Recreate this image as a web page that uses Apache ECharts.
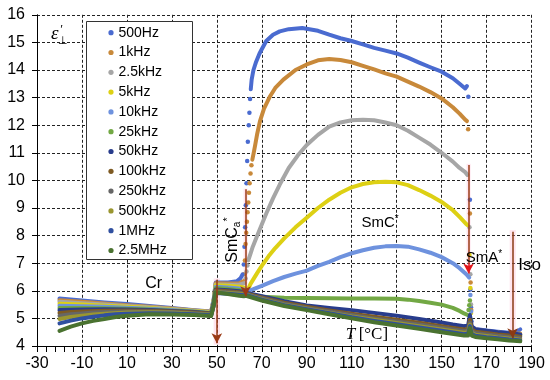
<!DOCTYPE html>
<html><head><meta charset="utf-8">
<script src="https://cdn.jsdelivr.net/npm/echarts/dist/echarts.min.js"></script>
<style>html,body{margin:0;padding:0;background:#fff}#c{width:550px;height:380px}</style>
</head><body><div id="c"></div>
<script>
// ---- axis ticks ----
const xTickValues = [-30,-10,10,30,50,70,90,110,130,150,170,190];
const yTickValues = [4,5,6,7,8,9,10,11,12,13,14,15,16];

// ---- series names / colours ----
const seriesNames = ['500Hz','1kHz','2.5kHz','5kHz','10kHz','25kHz','50kHz','100kHz','250kHz','500kHz','1MHz','2.5MHz'];
const seriesColors = ['#4A6BD0','#C8893A','#A6A6A6','#DDD014','#6E92DE','#72A844','#283C8C','#7E5A22','#666666','#9A9630','#3050A0','#4A7230'];

// ---- data: [T (°C), eps]. Dense runs (null = gap) and sparse isolated dots ----
const s500Hz = [[-20,5.72],[-10,5.65],[0,5.58],[10,5.52],[20,5.45],[30,5.38],[40,5.3],[47.5,5.25],[48.7,5.75],[49.5,6.3],[55,6.3],[59,6.35],[60.5,6.45],[61.5,6.6],
 null,[65.1,13.3],[65.5,13.65],[66.3,14.0],[67.5,14.3],[69,14.6],[70,14.75],[72,15.05],[75,15.28],[78,15.4],[82,15.48],[88,15.52],[95,15.42],[100,15.28],[105,15.15],[110,15.05],[115,14.93],[120,14.8],[125,14.7],[130,14.6],[135,14.45],[140,14.27],[145,14.1],[150,13.94],[155,13.7],[158,13.5],[160.5,13.33],[161.3,13.42],
 null,[163.6,4.68],[165,4.62],[170,4.56],[175,4.52],[180,4.48],[182,4.47],[183.5,4.52],[185,4.6]];
const d500Hz = [[62.0,6.95],[62.3,7.6],[62.6,8.3],[62.9,9.1],[63.2,9.9],[63.5,10.7],[63.8,11.4],[64.2,12.0],[64.5,12.45],[64.8,12.95],[161.9,13.03],[162.6,9.3],[162.8,6.05],[163.1,5.4],[163.3,4.9]];

const s1kHz = [[-20,5.66],[-10,5.6],[0,5.54],[10,5.48],[20,5.42],[30,5.36],[40,5.29],[47.5,5.24],[48.7,5.7],[49.5,6.27],[55,6.26],[60,6.27],[61.8,6.35],
 null,[65.8,10.75],[66.3,10.95],[67,11.25],[68,11.7],[69.2,12.15],[71,12.6],[73.7,13.05],[76,13.35],[79.6,13.65],[85,14.0],[90,14.2],[95,14.35],[100,14.4],[105,14.36],[110,14.28],[115,14.15],[120,14.02],[125,13.88],[130,13.76],[135,13.58],[140,13.4],[145,13.2],[150,12.97],[155,12.65],[158,12.42],[160.5,12.2],[161.3,12.15],
 null,[163.6,4.66],[165,4.6],[170,4.53],[175,4.49],[180,4.45],[182,4.44],[185,4.45]];
const d1kHz = [[62.2,6.6],[62.5,7.1],[62.8,7.7],[63.1,8.1],[63.4,8.5],[63.7,8.85],[64.0,9.2],[64.3,9.55],[64.6,9.9],[65.0,10.25],[65.4,10.55],[161.8,11.85],[162.6,8.8],[162.9,6.3],[163.2,5.3]];

const s2k5Hz = [[-20,5.6],[-10,5.55],[0,5.5],[10,5.45],[20,5.4],[30,5.34],[40,5.28],[47.5,5.23],[48.7,5.7],[49.5,6.23],[55,6.22],[60,6.22],[62.3,6.28],
 null,[64,7.1],[65,7.35],[66,7.6],[68,8.0],[70,8.4],[72,8.8],[75,9.35],[78,9.85],[82,10.45],[86,10.9],[90,11.28],[95,11.65],[100,11.95],[105,12.1],[110,12.18],[115,12.2],[120,12.18],[125,12.1],[130,12.0],[135,11.8],[140,11.55],[145,11.3],[150,11.0],[155,10.68],[158,10.45],[160.5,10.3],[161.5,10.2],
 null,[163.5,4.64],[165,4.58],[170,4.52],[175,4.48],[180,4.44],[182,4.43],[185,4.42]];
const d2k5Hz = [[62.8,6.45],[63.2,6.7],[63.6,6.92],[162.4,8.3],[162.8,6.6],[163.1,5.5]];

const s5kHz = [[-20,5.53],[-10,5.5],[0,5.46],[10,5.42],[20,5.38],[30,5.32],[40,5.27],[47.5,5.22],[48.7,5.7],[49.5,6.2],[55,6.18],[60,6.15],[62,6.12],[63,6.03],[64,6.07],[65,6.25],[68,6.65],[70,6.9],[73,7.25],[76,7.55],[80,7.9],[85,8.3],[90,8.65],[95,9.0],[100,9.3],[105,9.55],[110,9.75],[115,9.87],[120,9.93],[125,9.95],[130,9.93],[135,9.83],[140,9.65],[145,9.45],[150,9.22],[155,8.92],[158,8.68],[161,8.42],[161.5,8.38],
 null,[163.5,4.63],[165,4.57],[170,4.51],[175,4.47],[180,4.43],[182,4.42],[185,4.41]];
const d5kHz = [[162.4,7.3],[162.8,6.1],[163.1,5.2]];

const s10kHz = [[-20,5.46],[-10,5.44],[0,5.42],[10,5.39],[20,5.35],[30,5.3],[40,5.25],[47.5,5.2],[48.7,5.65],[49.5,6.15],[55,6.12],[60,6.08],[62,6.05],[63,5.98],[66,6.05],[70,6.18],[75,6.35],[80,6.5],[85,6.62],[90,6.73],[95,6.9],[100,7.05],[105,7.22],[110,7.36],[115,7.47],[120,7.56],[125,7.61],[130,7.62],[135,7.6],[140,7.5],[145,7.38],[150,7.22],[155,7.0],[158,6.82],[161,6.6],[162.3,6.48],
 null,[163.5,4.62],[165,4.56],[170,4.5],[175,4.46],[180,4.42],[182,4.41],[185,4.4]];
const d10kHz = [[162.8,5.85],[163.1,5.25]];

const s25kHz = [[-20,5.38],[-10,5.38],[0,5.37],[10,5.35],[20,5.32],[30,5.28],[40,5.24],[47.5,5.19],[48.7,5.6],[49.5,6.1],[55,6.07],[60,6.03],[62,6.0],[63,5.9],[65,5.83],[70,5.78],[80,5.75],[90,5.74],[100,5.73],[110,5.72],[120,5.72],[130,5.71],[135,5.68],[140,5.63],[145,5.57],[150,5.5],[155,5.38],[158,5.27],[160,5.18],[161.5,5.13],
 null,[163.4,4.62],[165,4.55],[170,4.49],[175,4.45],[180,4.41],[182,4.4],[185,4.38]];
const d25kHz = [[162,5.3],[162.3,5.48],[162.6,5.65],[163,4.95]];

const s50kHz = [[-20,5.3],[-10,5.32],[0,5.33],[10,5.32],[20,5.3],[30,5.27],[40,5.23],[47.5,5.18],[48.7,5.6],[49.5,6.05],[55,6.02],[60,5.98],[62,5.96],[63,5.93],[70,5.8],[80,5.62],[90,5.47],[100,5.38],[110,5.3],[120,5.2],[130,5.1],[140,4.98],[150,4.85],[155,4.78],[160,4.72],[161.8,4.75],[162.6,5.12],[163.4,4.72],[165,4.6],[170,4.55],[175,4.5],[180,4.46],[182,4.45],[185,4.42]];
const s100kHz = [[-20,5.2],[-15,5.23],[-10,5.25],[0,5.28],[10,5.29],[20,5.28],[30,5.25],[40,5.21],[47.5,5.17],[48.7,5.55],[49.5,6.02],[55,5.98],[60,5.95],[62,5.93],[63,5.9],[70,5.76],[80,5.57],[90,5.42],[100,5.29],[110,5.17],[120,5.06],[130,4.95],[140,4.84],[150,4.72],[160,4.6],[161.8,4.62],[162.6,4.95],[163.4,4.6],[165,4.52],[170,4.47],[175,4.42],[180,4.38],[182,4.37],[185,4.34]];
const s250kHz = [[-20,5.1],[-15,5.15],[-10,5.18],[-5,5.21],[0,5.23],[10,5.25],[20,5.25],[30,5.23],[40,5.19],[47.5,5.15],[48.7,5.5],[49.5,5.98],[55,5.95],[60,5.92],[62,5.9],[63,5.88],[70,5.73],[80,5.53],[90,5.38],[100,5.25],[110,5.12],[120,5.0],[130,4.89],[140,4.78],[150,4.66],[160,4.54],[161.8,4.56],[162.6,4.85],[163.4,4.54],[165,4.47],[170,4.42],[175,4.37],[180,4.33],[182,4.32],[185,4.29]];
const s500kHz = [[-20,4.98],[-15,5.05],[-10,5.1],[-5,5.14],[0,5.17],[10,5.21],[20,5.22],[30,5.21],[40,5.17],[47.5,5.13],[48.7,5.5],[49.5,5.95],[55,5.92],[60,5.89],[62,5.87],[63,5.86],[70,5.7],[80,5.5],[90,5.35],[100,5.21],[110,5.07],[120,4.95],[130,4.83],[140,4.72],[150,4.6],[160,4.48],[161.8,4.5],[162.6,4.78],[163.4,4.48],[165,4.41],[170,4.36],[175,4.31],[180,4.27],[182,4.26],[185,4.23]];
const s1MHz = [[-20,4.82],[-15,4.92],[-10,5.0],[-5,5.06],[0,5.11],[5,5.15],[10,5.17],[20,5.19],[30,5.18],[40,5.15],[47.5,5.11],[48.7,5.5],[49.5,5.92],[55,5.89],[60,5.86],[62,5.84],[63,5.85],[70,5.68],[80,5.48],[90,5.33],[100,5.19],[110,5.04],[120,4.91],[130,4.79],[140,4.67],[150,4.55],[160,4.43],[161.8,4.45],[162.6,4.72],[163.4,4.43],[165,4.37],[170,4.32],[175,4.28],[180,4.24],[182,4.23],[185,4.2]];
const s2M5Hz = [[-20,4.55],[-15,4.7],[-10,4.82],[-5,4.91],[0,4.98],[5,5.05],[10,5.1],[20,5.15],[30,5.14],[40,5.12],[47.5,5.09],[48.7,5.5],[49.5,5.95],[55,5.88],[60,5.82],[62,5.8],[63,5.82],[70,5.65],[80,5.45],[90,5.3],[100,5.15],[110,5.0],[120,4.86],[130,4.74],[140,4.62],[150,4.5],[160,4.38],[161.8,4.38],[162.6,4.65],[163.4,4.38],[165,4.33],[170,4.28],[175,4.24],[180,4.2],[182,4.19],[185,4.17]];

const runData = [s500Hz,s1kHz,s2k5Hz,s5kHz,s10kHz,s25kHz,s50kHz,s100kHz,s250kHz,s500kHz,s1MHz,s2M5Hz];
const dotData = [d500Hz,d1kHz,d2k5Hz,d5kHz,d10kHz,d25kHz,[],[],[],[],[],[]];

const SANS = '"Liberation Sans", Arial, sans-serif';
const SERIF = '"Liberation Serif", "Times New Roman", serif';

function splitRuns(d){
  const out=[]; let cur=[];
  d.forEach(p=>{ if(p===null){ if(cur.length) out.push(cur); cur=[]; } else cur.push(p); });
  if(cur.length) out.push(cur);
  return out;
}

const chart = echarts.init(document.getElementById('c'));

const series = [];
runData.forEach((d,i)=>{
  const c = seriesColors[i];
  series.push({name:seriesNames[i], type:'scatter', data:dotData[i], symbol:'circle', symbolSize:4.5,
    itemStyle:{color:c, opacity:1}, emphasis:{disabled:true}, silent:true, animation:false});
  splitRuns(d).forEach(seg=>{
    series.push({name:seriesNames[i], type:'line', data:seg, showSymbol:false, smooth:false,
      lineStyle:{width:4, color:c, cap:'round', join:'round'}, itemStyle:{color:c},
      emphasis:{disabled:true}, silent:true, animation:false});
  });
});

const BROWN = '#9A3A16';
series.push({
  name:'annotations', type:'line', data:[], silent:true, animation:false, z:5,
  markArea:{silent:true, itemStyle:{color:'rgba(255,170,200,0.3)'}, label:{show:false},
    data:[
      [{coord:[48.6,4.05]},{coord:[51.4,6.45]}],
      [{coord:[61.9,5.8]},{coord:[63.7,9.7]}],
      [{coord:[161.1,6.65]},{coord:[162.9,10.6]}],
      [{coord:[180.3,4.3]},{coord:[183.0,8.2]}]
    ]},
  markLine:{silent:true, symbol:['none','arrow'], symbolSize:[8,10], label:{show:false}, animation:false,
    lineStyle:{type:'solid', width:1.5, color:BROWN},
    data:[
      [{coord:[50,6.4], lineStyle:{color:BROWN}, itemStyle:{color:BROWN}},{coord:[50,4.1]}],
      [{coord:[62.8,9.68], lineStyle:{color:BROWN}, itemStyle:{color:BROWN}},{coord:[62.8,5.8]}],
      [{coord:[162,10.56], lineStyle:{color:BROWN}, itemStyle:{color:BROWN}, symbol:'none'},{coord:[162,7.0], symbol:'none'}],
      [{coord:[162,7.0], lineStyle:{color:'#E3161C'}, itemStyle:{color:'#E3161C'}},{coord:[162,6.63]}],
      [{coord:[181.6,8.14], lineStyle:{color:'#8B3A14'}, itemStyle:{color:'#8B3A14'}},{coord:[181.6,4.28]}]
    ]}
});

chart.setOption({
  backgroundColor:'#fff',
  animation:false,
  grid:{left:37, right:18.5, top:14.8, bottom:34, containLabel:false},
  xAxis:{type:'value', min:xTickValues[0], max:xTickValues[xTickValues.length-1], interval:xTickValues[1]-xTickValues[0],
    axisLine:{show:true, onZero:false, lineStyle:{color:'#000', width:1}},
    axisTick:{show:true, inside:false, length:6, lineStyle:{color:'#000'}},
    minorTick:{show:true, splitNumber:5, length:6, lineStyle:{color:'#000'}},
    axisLabel:{fontSize:16, fontFamily:SANS, color:'#000', margin:10},
    splitLine:{show:true, lineStyle:{color:'#222', type:[3,2], width:1}}},
  yAxis:{type:'value', min:yTickValues[0], max:yTickValues[yTickValues.length-1], interval:yTickValues[1]-yTickValues[0],
    axisLine:{show:true, onZero:false, lineStyle:{color:'#000', width:1}},
    axisTick:{show:true, inside:false, length:5, lineStyle:{color:'#000'}},
    axisLabel:{fontSize:16, fontFamily:SANS, color:'#000', margin:12},
    splitLine:{show:true, lineStyle:{color:'#222', type:[3,2], width:1}}},
  legend:{show:false},
  series: series
});

function P(t,v){ return chart.convertToPixel({gridIndex:0},[t,v]); }
const pCr = P(21.9,6.25), pSmCa = P(56.8,7.84), pSmC = P(122.6,8.46), pSmA = P(168.8,7.19), pIso = P(189.2,6.93), pT = P(116.8,4.4), pEps = P(-22.1,15.3);

// legend (box, dots, names) drawn as graphic elements
const legendEls = [{type:'rect', z:1, shape:{x:86.5, y:21.5, width:106, height:238}, style:{fill:'#fff', stroke:'#333', lineWidth:1}}];
seriesNames.forEach((n,i)=>{
  const y = 32.7 + i*19.8;
  legendEls.push({type:'circle', z:2, shape:{cx:111, cy:y, r:2.6}, style:{fill:seriesColors[i]}});
  legendEls.push({type:'text', z:2, x:118.5, y:y, style:{text:n, fontSize:14, fontFamily:SANS, fill:'#000', align:'left', verticalAlign:'middle'}});
});

chart.setOption({
  graphic: legendEls.concat([
    {type:'text', z:10, x:pCr[0], y:pCr[1], style:{text:'Cr', fontSize:16, fontFamily:SANS, fill:'#000', align:'center', verticalAlign:'middle'}},
    {type:'text', z:10, x:pSmCa[0], y:pSmCa[1], rotation:Math.PI/2, style:{text:'{m|SmC}{b|a}{t|*}', align:'center', verticalAlign:'middle', fill:'#000',
      rich:{m:{fontSize:16, fontFamily:SANS, lineHeight:20, verticalAlign:'middle'}, b:{fontSize:10, fontFamily:SANS, lineHeight:20, verticalAlign:'bottom'}, t:{fontSize:11, fontFamily:SANS, lineHeight:20, verticalAlign:'top'}}}},
    {type:'text', z:10, x:pSmC[0], y:pSmC[1], style:{text:'{m|SmC}{t|*}', align:'center', verticalAlign:'middle', fill:'#000',
      rich:{m:{fontSize:15, fontFamily:SANS, lineHeight:18, verticalAlign:'middle'}, t:{fontSize:10, fontFamily:SANS, lineHeight:18, verticalAlign:'top'}}}},
    {type:'text', z:10, x:pSmA[0], y:pSmA[1], style:{text:'{m|SmA}{t|*}', align:'center', verticalAlign:'middle', fill:'#000',
      rich:{m:{fontSize:15, fontFamily:SANS, lineHeight:18, verticalAlign:'middle'}, t:{fontSize:10, fontFamily:SANS, lineHeight:18, verticalAlign:'top'}}}},
    {type:'text', z:10, x:pIso[0], y:pIso[1], style:{text:'Iso', fontSize:17, fontFamily:SANS, fill:'#000', align:'center', verticalAlign:'middle'}},
    {type:'text', z:10, x:pT[0], y:pT[1], style:{text:'{i|T} {r|[°C]}', align:'center', verticalAlign:'middle', fill:'#000',
      rich:{i:{fontSize:17, fontFamily:SERIF, fontStyle:'italic'}, r:{fontSize:17, fontFamily:SERIF}}}},
    {type:'text', z:10, x:pEps[0], y:pEps[1], style:{text:'ε', fontSize:19, fontFamily:SERIF, fontStyle:'italic', fill:'#000', align:'center', verticalAlign:'middle'}},
    {type:'text', z:10, x:pEps[0]+7, y:pEps[1]-5, style:{text:'′', fontSize:13, fontFamily:SERIF, fill:'#000', align:'center', verticalAlign:'middle'}},
    {type:'text', z:10, x:pEps[0]+8, y:pEps[1]+7, style:{text:'⊥', fontSize:11, fontFamily:SERIF, fill:'#000', align:'center', verticalAlign:'middle'}}
  ])
});
</script></body></html>
